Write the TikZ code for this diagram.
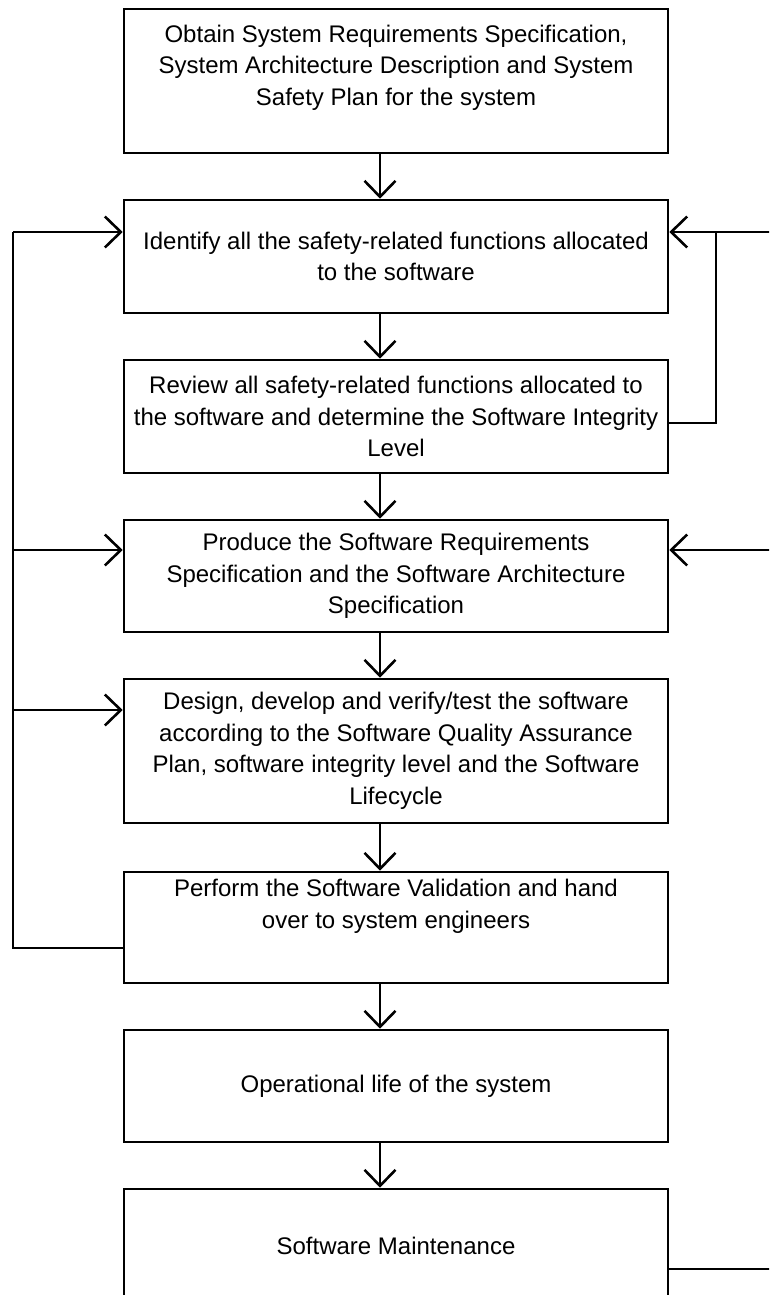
\documentclass[tikz,border=0pt]{standalone}
\usepackage{fontspec}
\setmainfont{Liberation Sans}
\usetikzlibrary{arrows.meta}
\tikzset{
  box/.style={draw, line width=2.6pt, minimum width=544pt, inner sep=0pt, align=center,
              font=\fontsize{24}{31.5}\selectfont},
  conn/.style={line width=2.6pt},
  arr/.style={conn, -{Straight Barb[length=16pt,width=31pt,line width=2.6pt]}}
}
\begin{document}
\begin{tikzpicture}[x=1pt,y=-1pt]
\useasboundingbox (0,0) rectangle (769,1295);
\clip (0,0) rectangle (769,1295);
\node[box, minimum height=144pt] (b1) at (396,81)
  {Obtain System Requirements Specification,\\System Architecture Description and System\\Safety Plan for the system\\~};
\node[box, minimum height=113pt] (b2) at (396,256.5)
  {Identify all the safety-related functions allocated\\to the software};
\node[box, minimum height=113pt] (b3) at (396,416.5)
  {Review all safety-related functions allocated to\\the software and determine the Software Integrity\\Level};
\node[box, minimum height=112pt] (b4) at (396,576)
  {Produce the Software Requirements\\Specification and the Software Architecture\\Specification};
\node[box, minimum height=144pt] (b5) at (396,751)
  {Design, develop and verify/test the software\\according to the Software Quality Assurance\\Plan, software integrity level and the Software\\Lifecycle};
\node[box, minimum height=111pt] (b6) at (396,927.5)
  {Perform the Software Validation and hand\\over to system engineers\\[16pt]~};
\node[box, minimum height=112pt] (b7) at (396,1086)
  {Operational life of the system};
\node[box, minimum height=113pt] (b8) at (396,1245.5)
  {Software Maintenance};
% vertical flow arrows
\coordinate (ax) at (380,0);
\foreach \a/\b in {b1/b2,b2/b3,b3/b4,b4/b5,b5/b6,b6/b7,b7/b8}
  \draw[arr] (\a.south -| ax) -- (\b.north -| ax);
% left feedback line
\coordinate (lb) at (13,948);
\coordinate (lt) at (13,232);
\coordinate (l4) at (13,550);
\coordinate (l5) at (13,710);
\draw[conn] (b6.west |- lb) -- (lb) -- (lt);
\draw[arr] (lt) -- (b2.west |- lt);
\draw[arr] (l4) -- (b4.west |- l4);
\draw[arr] (l5) -- (b5.west |- l5);
% right side lines
\coordinate (r2) at (772,232);
\coordinate (rj) at (716,232);
\coordinate (r3) at (716,423);
\coordinate (r4) at (772,550);
\coordinate (r8) at (772,1269);
\draw[conn] (b3.east |- r3) -- (r3) -- (rj);
\draw[arr] (r2) -- (b2.east |- r2);
\draw[arr] (r4) -- (b4.east |- r4);
\draw[conn] (b8.east |- r8) -- (r8);
\end{tikzpicture}
\end{document}
